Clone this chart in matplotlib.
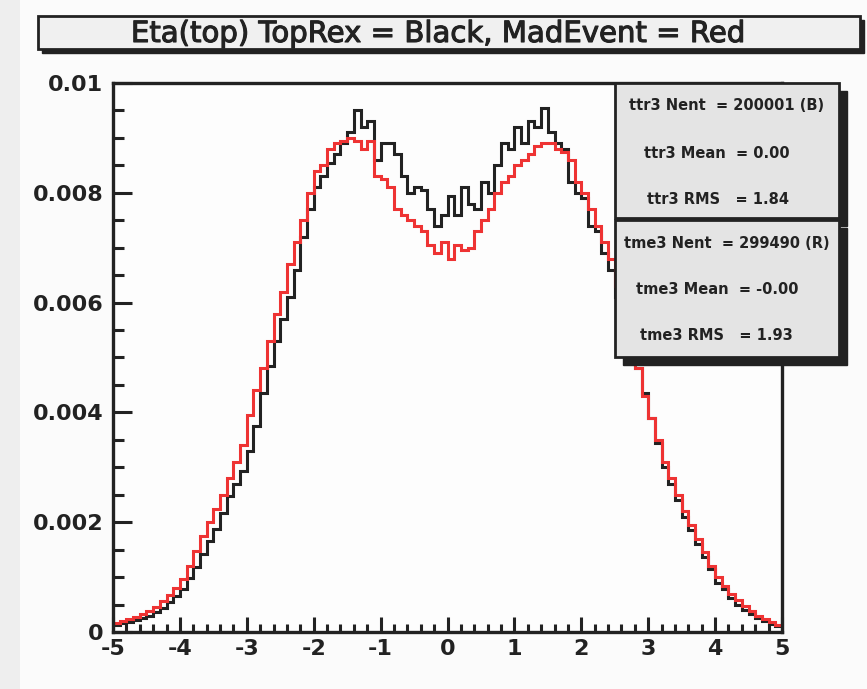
import numpy as np
import matplotlib
import matplotlib.pyplot as plt
import matplotlib.patheffects as pe
from matplotlib.patches import Rectangle
from matplotlib.ticker import MultipleLocator

matplotlib.use("Agg")
plt.rcParams["font.family"] = ["DejaVu Sans"]

# eta(top) distributions, 100 bins on [-5, 5], contents in units of 1e-4
eta_lo, eta_hi, n_bins = -5.0, 5.0, 100

toprex = [
    1.3, 1.6, 1.9, 2.2, 2.6, 3.0, 3.6, 4.4, 5.4, 6.5,
    7.8, 9.8, 11.8, 14.2, 16.6, 18.8, 21.6, 24.8, 27.0, 29.4,
    33.0, 37.5, 43.5, 48.5, 53.0, 57.0, 61.0, 66.0, 72.0, 77.0,
    81.0, 83.0, 85.5, 87.0, 89.0, 91.0, 95.0, 92.0, 93.0, 86.0,
    89.0, 89.0, 87.0, 83.0, 80.0, 81.0, 80.5, 77.0, 74.0, 76.0,
    79.5, 76.0, 81.0, 78.0, 77.0, 82.0, 80.0, 85.0, 89.0, 88.0,
    92.0, 89.0, 93.0, 92.0, 95.5, 91.0, 89.0, 88.0, 82.0, 80.0,
    79.0, 74.0, 73.0, 69.0, 66.0, 61.0, 57.0, 52.0, 48.0, 43.5,
    39.0, 34.5, 30.0, 27.0, 24.0, 21.0, 18.5, 16.0, 13.6, 11.4,
    9.0, 7.8, 6.2, 5.0, 4.0, 3.2, 2.6, 2.0, 1.5, 1.1,
]

madevent = [
    1.7, 2.0, 2.3, 2.7, 3.3, 3.8, 4.6, 5.6, 6.8, 8.0,
    9.6, 12.0, 14.8, 17.4, 20.0, 22.4, 25.0, 28.0, 31.0, 34.0,
    39.5, 44.0, 48.0, 53.0, 58.0, 62.0, 67.0, 71.0, 75.0, 80.0,
    84.0, 85.0, 88.0, 89.0, 89.5, 90.0, 89.5, 88.0, 89.5, 83.0,
    82.5, 81.0, 77.0, 76.0, 75.0, 74.0, 73.0, 70.5, 69.0, 71.0,
    68.0, 70.5, 69.5, 70.0, 73.0, 75.0, 77.0, 80.0, 82.0, 83.0,
    85.0, 86.0, 87.0, 88.5, 89.0, 89.0, 88.0, 87.5, 86.0, 82.0,
    80.0, 77.0, 74.0, 71.0, 68.0, 63.0, 58.0, 53.0, 48.0, 43.0,
    39.0, 35.0, 31.0, 28.0, 25.0, 22.0, 19.5, 17.0, 14.5, 12.0,
    10.0, 8.4, 7.0, 5.8, 4.8, 3.8, 3.0, 2.4, 1.8, 1.2,
]

y_ticks = [0, 0.002, 0.004, 0.006, 0.008, 0.01]
y_ticklabels = ["0", "0.002", "0.004", "0.006", "0.008", "0.01"]
x_ticks = [-5, -4, -3, -2, -1, 0, 1, 2, 3, 4, 5]
x_ticklabels = ["-5", "-4", "-3", "-2", "-1", "0", "1", "2", "3", "4", "5"]

title = "Eta(top) TopRex = Black, MadEvent = Red"
stats_black = ["ttr3 Nent  = 200001 (B)", "ttr3 Mean  = 0.00", "ttr3 RMS   = 1.84"]
stats_red = ["tme3 Nent  = 299490 (R)", "tme3 Mean  = -0.00", "tme3 RMS   = 1.93"]

W, H = 867, 689
INK = "#222222"
RED = "#ee3333"

fig = plt.figure(figsize=(W / 100, H / 100), dpi=100, facecolor="#fbfbfb")

# frame of the histogram pad, in pixels
left, right, top, bottom = 113, 782, 83, 632
ax = fig.add_axes([left / W, 1 - bottom / H, (right - left) / W, (bottom - top) / H])
ax.set_facecolor("#fdfdfd")

edges = np.linspace(eta_lo, eta_hi, n_bins + 1)
ax.stairs(np.array(toprex) * 1e-4, edges, color=INK, lw=2.2, baseline=None)
ax.stairs(np.array(madevent) * 1e-4, edges, color=RED, lw=2.2, baseline=None)

ax.set_xlim(eta_lo, eta_hi)
ax.set_ylim(0, 0.01)
for s in ax.spines.values():
    s.set_linewidth(2.4)
    s.set_color(INK)

ax.set_xticks(x_ticks, x_ticklabels)
ax.set_yticks(y_ticks, y_ticklabels)
ax.xaxis.set_minor_locator(MultipleLocator(0.2))
ax.yaxis.set_minor_locator(MultipleLocator(0.0005))
ax.tick_params(axis="both", which="both", direction="in", width=2.2, color=INK,
               labelcolor=INK)
ax.tick_params(axis="x", which="major", length=11, pad=5, labelsize=16)
ax.tick_params(axis="x", which="minor", length=5.5)
ax.tick_params(axis="y", which="major", length=14, pad=7, labelsize=16)
ax.tick_params(axis="y", which="minor", length=8)
for lab in ax.get_xticklabels() + ax.get_yticklabels():
    lab.set_fontweight("bold")

# overlay in pixel coordinates for the title and stats boxes
deco = fig.add_axes([0, 0, 1, 1], zorder=5)
deco.set_xlim(0, W)
deco.set_ylim(H, 0)
deco.axis("off")
deco.patch.set_visible(False)

deco.add_patch(Rectangle((0, 0), 20, H, color="#eeeeee", lw=0))


def shadow_box(x0, y0, x1, y1, face, off):
    deco.add_patch(Rectangle((x0 + off, y0 + off), x1 - x0, y1 - y0,
                             facecolor=INK, edgecolor=INK, lw=1))
    deco.add_patch(Rectangle((x0, y0), x1 - x0, y1 - y0,
                             facecolor=face, edgecolor=INK, lw=2))


shadow_box(38, 16, 860, 49, "#f0f0f0", 4)
deco.text(438, 34, title, fontsize=21, ha="center", va="center", color=INK,
          path_effects=[pe.withStroke(linewidth=0.8, foreground=INK)])

shadow_box(615, 83, 839, 218, "#e4e4e4", 8)
shadow_box(615, 220, 839, 357, "#e4e4e4", 8)

for txt, x, y in zip(stats_black, [727, 717, 718], [105, 153, 200]):
    deco.text(x, y, txt, fontsize=10.5, fontweight="bold", ha="center",
              va="center", color=INK)
for txt, x, y in zip(stats_red, [727, 717, 716], [243, 290, 335]):
    deco.text(x, y, txt, fontsize=10.5, fontweight="bold", ha="center",
              va="center", color=INK)

fig.savefig("out.png", dpi=100, facecolor=fig.get_facecolor())
